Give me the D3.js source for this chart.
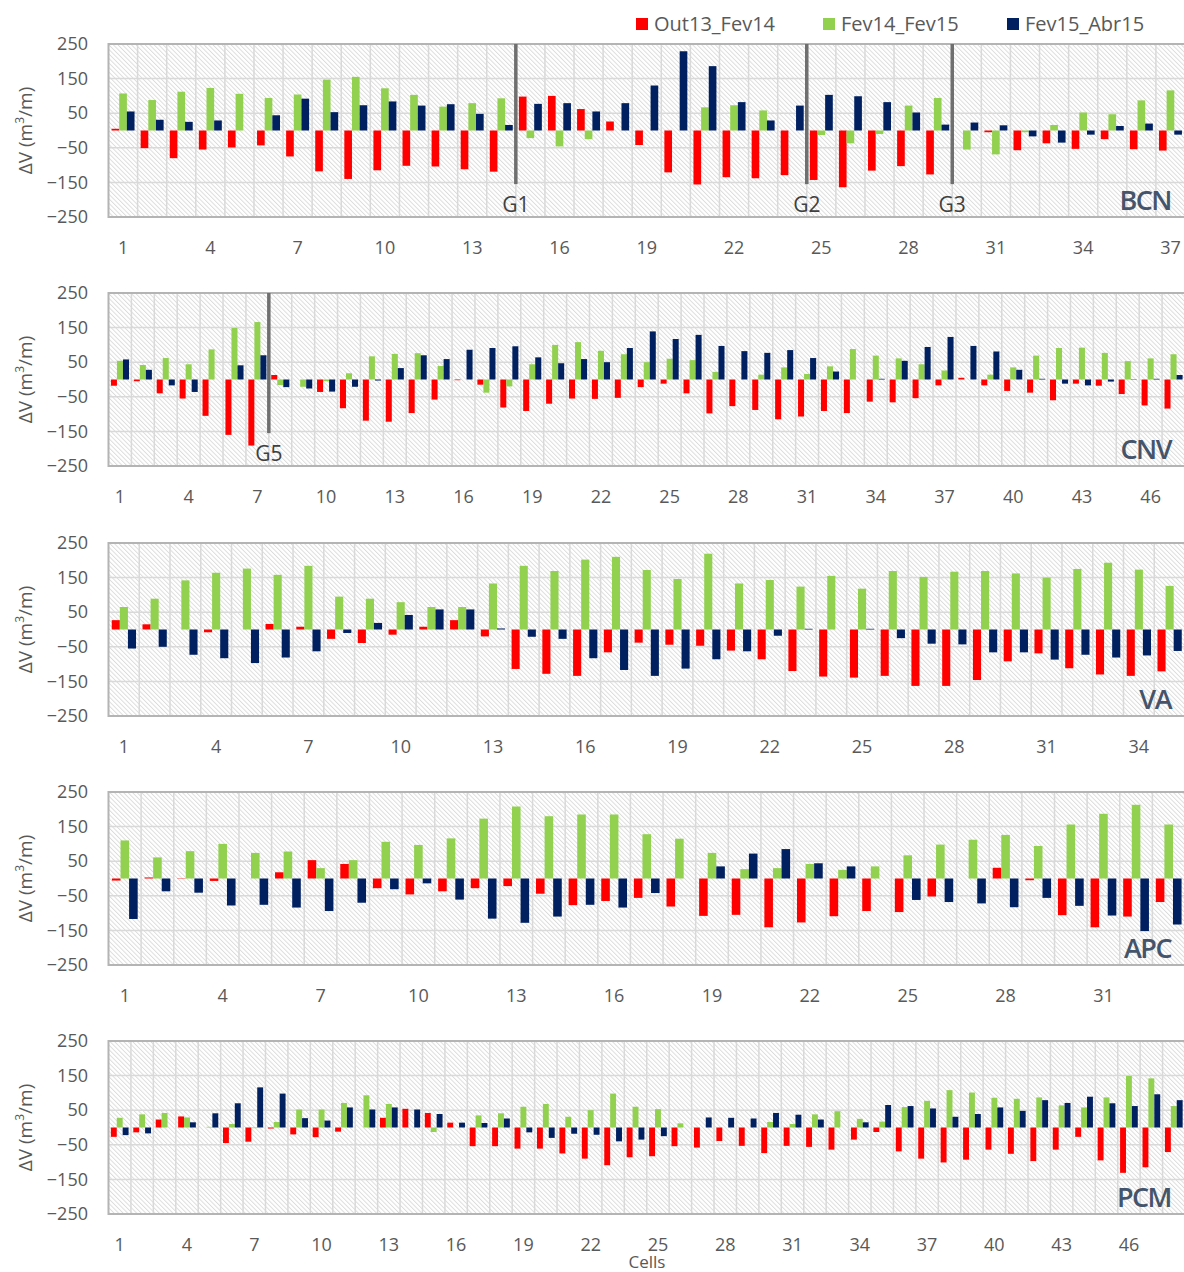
<!DOCTYPE html>
<html><head><meta charset="utf-8">
<script src="https://cdn.jsdelivr.net/npm/d3@7"></script>
<style>body{margin:0;background:#fff;} svg{display:block;font-family:"Open Sans",sans-serif;}</style>
</head><body><svg id="c" width="1184" height="1272"></svg>
<script>
// ---- data ----
const seriesNames = ["Out13_Fev14", "Fev14_Fev15", "Fev15_Abr15"];
const seriesColors = ["#ff0000", "#92d050", "#002060"];
const yTicks = [250, 150, 50, -50, -150, -250];
const panelNames = ["BCN", "CNV", "VA", "APC", "PCM"];

const bcnOut13Fev14 = [5,-51,-80,-55,-49,-43,-75,-118,-140,-115,-102,-104,-112,-119,98,100,62,26,-42,-121,-156,-135,-138,-129,-143,-164,-116,-103,-127,0,-5,-57,-37,-53,-25,-54,-58];
const bcnFev14Fev15 = [107,88,112,123,106,94,104,147,155,122,103,69,79,93,-22,-46,-25,0,0,0,67,73,58,0,-13,-37,-10,72,94,-55,-69,-5,16,52,47,87,116];
const bcnFev15Abr15 = [55,31,25,29,0,44,92,53,73,84,72,76,48,16,77,79,55,79,130,229,186,82,29,72,103,99,82,52,17,23,15,-17,-35,-12,13,20,-12];

const cnvOut13Fev14 = [-18,-5,-40,-55,-105,-160,-191,13,0,-36,-83,-119,-122,-97,-58,-2,-15,-81,-91,-70,-55,-56,-53,-22,-12,-40,-98,-77,-88,-115,-107,-91,-97,-64,-66,-54,-17,5,-17,-33,-38,-60,-12,-18,-42,-75,-84];
const cnvFev14Fev15 = [54,42,62,44,87,149,166,-16,-21,-5,18,67,74,76,39,0,-38,-20,44,100,108,83,73,50,60,56,22,0,14,35,16,38,88,69,61,44,26,0,14,35,69,91,92,77,53,61,73];
const cnvFev15Abr15 = [58,28,-17,-36,0,41,70,-22,-26,-35,-21,-3,33,70,59,86,91,96,64,47,59,50,91,139,117,129,97,82,77,85,62,23,0,2,54,94,123,97,81,28,2,-12,-17,-6,1,2,13];

const vaOut13Fev14 = [27,15,0,-8,0,16,8,-27,-39,-15,8,27,-20,-114,-128,-134,-66,-38,-44,-47,-61,-86,-120,-136,-139,-134,-163,-163,-146,-92,-69,-112,-130,-134,-121];
const vaFev14Fev15 = [65,89,142,164,176,158,184,95,89,79,65,65,133,184,169,202,210,172,146,219,133,143,124,155,118,169,152,167,169,162,150,175,193,173,126];
const vaFev15Abr15 = [-55,-50,-73,-83,-97,-81,-63,-10,19,42,58,58,3,-21,-27,-83,-117,-134,-113,-86,-63,-18,2,0,2,-25,-41,-43,-66,-66,-87,-73,-81,-75,-62];

const apcOut13Fev14 = [-6,3,1,-7,0,18,53,42,-28,-46,-37,-28,-22,-44,-77,-65,-56,-81,-108,-105,-141,-127,-109,-94,-97,-52,0,31,-5,-106,-141,-110,-68];
const apcFev14Fev15 = [110,61,79,100,74,78,30,53,106,97,116,173,208,180,185,185,128,115,74,27,30,42,25,35,67,98,112,126,94,156,187,213,156];
const apcFev15Abr15 = [-117,-37,-41,-78,-76,-84,-94,-70,-31,-14,-61,-116,-128,-110,-76,-84,-42,0,35,72,85,44,35,0,-62,-68,-72,-83,-56,-79,-107,-152,-133];

const pcmOut13Fev14 = [-27,-14,23,32,0,-45,-41,-3,-20,-28,-12,0,28,54,42,14,-54,-54,-61,-61,-75,-90,-109,-86,-83,-54,-58,-39,-53,-74,-53,-56,-64,-35,-13,-69,-90,-101,-93,-64,-76,-97,-64,-27,-95,-131,-115,-71];
const pcmFev14Fev15 = [28,38,42,29,2,10,-2,16,52,52,71,93,68,0,-13,0,35,41,60,68,31,50,98,60,53,12,0,0,0,16,10,38,47,25,17,59,77,108,101,86,83,87,64,58,87,149,142,62];
const pcmFev15Abr15 = [-22,-17,0,15,41,70,116,98,27,20,58,52,58,52,39,14,13,26,-14,-30,-18,-21,-40,-35,-25,0,29,28,26,42,37,23,0,15,65,62,55,31,39,58,48,79,71,89,70,62,96,79];

// group divider lines: label and the cell after which they sit
const bcnGroupLabels = ["G1", "G2", "G3"];
const bcnGroupAfter = [14, 24, 29];
const cnvGroupLabels = ["G5"];
const cnvGroupAfter = [7];

const panels = [
  {name: panelNames[0], series: [bcnOut13Fev14, bcnFev14Fev15, bcnFev15Abr15], gl: bcnGroupLabels, ga: bcnGroupAfter},
  {name: panelNames[1], series: [cnvOut13Fev14, cnvFev14Fev15, cnvFev15Abr15], gl: cnvGroupLabels, ga: cnvGroupAfter},
  {name: panelNames[2], series: [vaOut13Fev14, vaFev14Fev15, vaFev15Abr15], gl: [], ga: []},
  {name: panelNames[3], series: [apcOut13Fev14, apcFev14Fev15, apcFev15Abr15], gl: [], ga: []},
  {name: panelNames[4], series: [pcmOut13Fev14, pcmFev14Fev15, pcmFev15Abr15], gl: [], ga: []}
];

// ---- layout ----
const svg = d3.select("#c");
const tops = [44, 293, 543, 792, 1041];
const plotH = 173, plotL = 108.5, plotR = 1185;
const textCol = "#595959", labelCol = "#44546a";

const defs = svg.append("defs");
const pat = defs.append("pattern").attr("id", "hatch").attr("patternUnits", "userSpaceOnUse")
  .attr("width", 3.2).attr("height", 3.2).attr("patternTransform", "rotate(-45)");
pat.append("rect").attr("width", 3.2).attr("height", 3.2).attr("fill", "#ffffff");
pat.append("line").attr("x1", 0.5).attr("y1", 0).attr("x2", 0.5).attr("y2", 3.2)
  .attr("stroke", "#d6d6d6").attr("stroke-width", 0.8);

panels.forEach((p, pi) => {
  const top = tops[pi];
  const n = p.series[0].length;
  const cells = d3.range(1, n + 1);
  const x = d3.scaleBand().domain(cells).range([plotL, plotR]).padding(0);
  const xs = d3.scaleBand().domain([0, 1, 2]).range([0, x.bandwidth()]).paddingInner(0).paddingOuter(0.4);
  const y = d3.scaleLinear().domain([-250, 250]).range([top + plotH, top]);
  const g = svg.append("g");

  g.append("rect").attr("x", plotL).attr("y", top).attr("width", plotR - plotL).attr("height", plotH)
    .attr("fill", "url(#hatch)");

  // vertical gridlines at cell boundaries
  g.append("g").selectAll("line").data(cells.slice(1)).join("line")
    .attr("x1", d => x(d)).attr("x2", d => x(d)).attr("y1", top).attr("y2", top + plotH)
    .attr("stroke", "#d9d9d9").attr("stroke-width", 1.5);
  // horizontal gridlines
  g.append("g").selectAll("line").data(yTicks.slice(1, -1)).join("line")
    .attr("x1", plotL).attr("x2", plotR).attr("y1", d => y(d)).attr("y2", d => y(d))
    .attr("stroke", "#d9d9d9").attr("stroke-width", 1.5);

  // bars
  p.series.forEach((vals, si) => {
    g.append("g").selectAll("rect").data(vals).join("rect")
      .attr("x", (d, i) => x(cells[i]) + xs(si))
      .attr("width", xs.bandwidth())
      .attr("y", d => y(Math.max(0, d)))
      .attr("height", d => Math.abs(y(d) - y(0)))
      .attr("fill", seriesColors[si]);
  });

  // border
  g.append("rect").attr("x", plotL).attr("y", top).attr("width", plotR - plotL).attr("height", plotH)
    .attr("fill", "none").attr("stroke", "#b4b4b4").attr("stroke-width", 2);

  // group lines
  p.ga.forEach((after, k) => {
    const gx = x(after) + x.bandwidth();
    g.append("line").attr("x1", gx).attr("x2", gx).attr("y1", top).attr("y2", y(-155))
      .attr("stroke", "#6f6f6f").attr("stroke-width", 3.5);
    g.append("text").attr("x", gx).attr("y", y(-155) + 28).attr("text-anchor", "middle")
      .attr("font-size", 21).attr("fill", "#404040").text(p.gl[k]);
  });

  // y axis labels
  const yAxis = d3.axisLeft(y).tickValues(yTicks).tickSize(0).tickPadding(0).tickFormat(d3.format("d"));
  const ya = g.append("g").attr("transform", `translate(88,0)`).call(yAxis);
  ya.select(".domain").remove();
  ya.selectAll("text").attr("font-size", 18).attr("fill", textCol).attr("font-family", '"Open Sans",sans-serif');

  // x axis labels
  const xAxis = d3.axisBottom(x).tickValues(cells.filter(c => (c - 1) % 3 === 0)).tickSize(0).tickPadding(0);
  const xa = g.append("g").attr("transform", `translate(0,${top + 197})`).call(xAxis);
  xa.select(".domain").remove();
  xa.selectAll("text").attr("font-size", 18).attr("fill", textCol).attr("font-family", '"Open Sans",sans-serif');

  // y title
  g.append("text").attr("transform", `translate(32,${top + plotH / 2}) rotate(-90)`)
    .attr("text-anchor", "middle").attr("font-size", 19).attr("fill", textCol)
    .html('ΔV (m<tspan baseline-shift="super" font-size="12">3</tspan>/m)');

  // panel name
  g.append("text").attr("x", 1171).attr("y", top + 166).attr("text-anchor", "end")
    .attr("font-size", 27).attr("font-weight", 600).attr("letter-spacing", -1.5)
    .attr("fill", labelCol).text(p.name);
});

// x title
svg.append("text").attr("x", 647).attr("y", 1268).attr("text-anchor", "middle")
  .attr("font-size", 17).attr("fill", textCol).text("Cells");

// legend
const legX = [636, 823, 1007];
const leg = svg.append("g");
seriesNames.forEach((s, i) => {
  leg.append("rect").attr("x", legX[i]).attr("y", 18).attr("width", 12).attr("height", 12).attr("fill", seriesColors[i]);
  leg.append("text").attr("x", legX[i] + 18).attr("y", 31).attr("font-size", 20).attr("fill", textCol).text(s);
});
</script></body></html>
